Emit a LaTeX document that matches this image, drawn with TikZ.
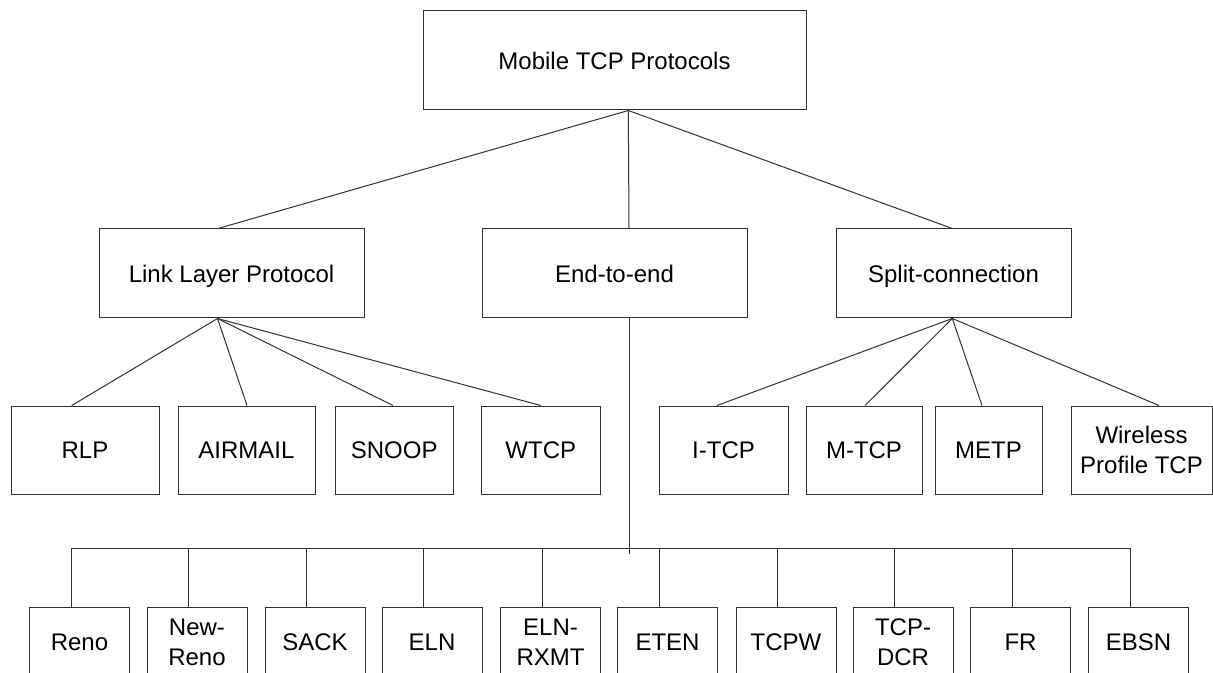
\documentclass[tikz,border=0pt]{standalone}
\usepackage{fontspec}
\setmainfont{Liberation Sans}
\usetikzlibrary{calc}
\begin{document}
\begin{tikzpicture}[x=0.75pt,y=-0.75pt,
  ln/.style={draw=black!80,line width=0.75pt},
  box/.style 2 args={ln,rectangle,inner sep=0pt,align=center,
    font=\fontsize{18}{22.5}\selectfont,
    text height=12.9pt,text depth=0pt,
    minimum width=#1*0.75pt,minimum height=#2*0.75pt},
  twoline/.style={text height={},text depth={}},
]
\useasboundingbox (0,0) rectangle (1213,673);
\fill[white] (0,0) rectangle (1213,673);
\clip (0,0) rectangle (1213,673);

% root
\node[box={383}{99}] (root) at (614.5,60.5) {Mobile TCP Protocols};

% level 1
\node[box={265}{89}] (link)  at (231.5,273.5) {Link Layer Protocol};
\node[box={265}{89}] (e2e)   at (614.5,273.5) {End-to-end};
\node[box={235}{89}] (split) at (953.5,273.5) {Split-connection};

% level 2 (link layer / split)
\node[box={148}{88}]   (rlp)     at (85,450)     {RLP};
\node[box={137}{88}]   (airmail) at (246.5,450)  {AIRMAIL};
\node[box={118.5}{88}] (snoop)   at (394.25,450) {SNOOP};
\node[box={118.4}{88}] (wtcp)    at (540.8,450)  {WTCP};
\node[box={129}{88}]   (itcp)    at (723.5,450)  {I-TCP};
\node[box={116}{88}]   (mtcp)    at (864,450)    {M-TCP};
\node[box={107}{88}]   (metp)    at (988.5,450)  {METP};
\node[box={141}{88},twoline] (wptcp) at (1141.5,450) {Wireless\\Profile TCP};

% level 2 (end-to-end)
\node[box={100}{70}] (reno)    at (79.5,642)   {Reno};
\node[box={100}{70},twoline] (newreno) at (197,642) {New-\\Reno};
\node[box={100}{70}] (sack)    at (315,642)    {SACK};
\node[box={100}{70}] (eln)     at (432,642)    {ELN};
\node[box={100}{70},twoline] (elnr) at (550.5,642) {ELN-\\RXMT};
\node[box={100}{70}] (eten)    at (667.5,642)  {ETEN};
\node[box={100}{70}] (tcpw)    at (786,642)    {TCPW};
\node[box={100}{70},twoline] (tcpdcr) at (903,642) {TCP-\\DCR};
\node[box={100}{70}] (fr)      at (1020.5,642) {FR};
\node[box={100}{70}] (ebsn)    at (1138.5,642) {EBSN};

% root connectors
\coordinate (rootc) at ($(root.south)+(13.8,0)$);
\draw[ln] (rootc) -- ($(link.north)+(-13.5,0)$);
\draw[ln] (rootc) -- ($(e2e.north)+(14.5,0)$);
\draw[ln] (rootc) -- ($(split.north)+(-1.2,0)$);

% link layer connectors
\coordinate (linkc) at ($(link.south)+(-14,0)$);
\draw[ln] (linkc) -- ($(rlp.north)+(-13.3,0)$);
\draw[ln] (linkc) -- ($(airmail.north)+(0.5,0)$);
\draw[ln] (linkc) -- ($(snoop.north)+(-1.25,0)$);
\draw[ln] (linkc) -- (wtcp.north);

% split connectors
\coordinate (splitc) at ($(split.south)+(-1.2,0)$);
\draw[ln] (splitc) -- ($(itcp.north)+(-6.5,0)$);
\draw[ln] (splitc) -- ($(mtcp.north)+(1,0)$);
\draw[ln] (splitc) -- ($(metp.north)+(-6.5,0)$);
\draw[ln] (splitc) -- ($(wptcp.north)+(17.5,0)$);

% end-to-end trunk and bus
\coordinate (trunkend) at ($(e2e.south)+(14.5,235.3)$);
\draw[ln] ($(e2e.south)+(14.5,0)$) -- (trunkend);
\draw[ln] ($(reno.north)+(-8.5,0)$) |- ($(ebsn.north)+(-8.5,-58)$) -- ($(ebsn.north)+(-8.5,0)$);
\foreach \n in {newreno,sack,eln,elnr,eten,tcpw,tcpdcr,fr}
  \draw[ln] ($(\n.north)+(-8.5,0)$) -- ++(0,-58);
\end{tikzpicture}
\end{document}
